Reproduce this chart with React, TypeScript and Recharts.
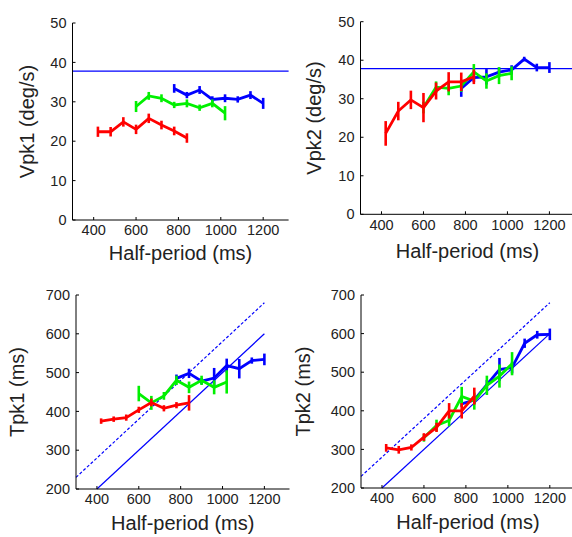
import React from "react";
import { ComposedChart, Line, XAxis, YAxis, ErrorBar, ReferenceLine } from "recharts";

// half-period of each condition (ms)
const halfPeriodRed = [420, 480, 540, 600, 660, 720, 780, 840];
const halfPeriodGreen = [600, 660, 720, 780, 840, 900, 960, 1020];
const halfPeriodBlue = [780, 840, 900, 960, 1020, 1080, 1140, 1200];
const halfPeriodTicks = [400, 600, 800, 1000, 1200];

// peak velocity 1 (deg/s)
const vpk1Red = [22.4, 22.4, 24.9, 23.0, 25.8, 24.1, 22.6, 20.8];
const vpk1RedErr = [1.3, 1.2, 1.2, 1.2, 1.2, 1.1, 1.1, 1.2];
const vpk1Green = [28.8, 31.5, 30.9, 29.2, 29.6, 28.5, 29.6, 27.1];
const vpk1GreenErr = [1.4, 1.0, 1.0, 0.8, 1.0, 0.8, 1.0, 1.8];
const vpk1Blue = [33.4, 31.7, 33.0, 30.6, 30.9, 30.6, 31.7, 29.6];
const vpk1BlueErr = [1.1, 0.8, 1.0, 0.8, 1.0, 0.8, 1.0, 1.4];

// peak velocity 2 (deg/s)
const vpk2Red = [21.0, 26.8, 29.7, 27.7, 32.0, 34.4, 34.4, 35.7];
const vpk2RedErr = [3.2, 2.4, 2.4, 3.8, 2.2, 2.5, 2.4, 1.9];
const vpk2Green = [27.7, 33.0, 32.7, 33.3, 37.0, 34.6, 36.0, 36.6];
const vpk2GreenErr = [1.5, 1.5, 1.8, 1.5, 2.0, 2.0, 2.2, 1.8];
const vpk2Blue = [32.7, 35.5, 35.7, 36.9, 37.5, 40.3, 38.1, 38.1];
const vpk2BlueErr = [2.2, 1.2, 2.0, 1.2, 1.2, 0.6, 1.0, 1.4];

// time of peak 1 (ms)
const tpk1Red = [375, 380, 384, 404, 423, 408, 416, 422];
const tpk1RedErr = [7, 7, 8, 8, 10, 8, 8, 20];
const tpk1Green = [446, 422, 440, 480, 462, 480, 462, 476];
const tpk1GreenErr = [20, 18, 10, 12, 15, 12, 18, 30];
const tpk1Blue = [485, 498, 478, 486, 518, 510, 531, 534];
const tpk1BlueErr = [10, 12, 8, 26, 18, 25, 8, 15];

// time of peak 2 (ms)
const tpk2Red = [304, 299, 305, 332, 357, 400, 400, 438];
const tpk2RedErr = [10, 10, 8, 10, 12, 20, 20, 22];
const tpk2Green = [330, 362, 375, 437, 425, 466, 490, 522];
const tpk2GreenErr = [10, 15, 15, 25, 22, 25, 30, 30];
const tpk2Blue = [418, 428, 468, 507, 512, 575, 597, 598];
const tpk2BlueErr = [8, 10, 12, 30, 15, 12, 10, 15];

const vpkTicks = [0, 10, 20, 30, 40, 50];
const tpkTicks = [200, 300, 400, 500, 600, 700];
const vpkTarget = 37.8;
// Tpk = half-period / 2, and the same shifted up by 80 ms
const tpkHalf = [{ x: 400, y: 200 }, { x: 1200, y: 600 }];
const tpkHalfShifted = [{ x: 300, y: 230 }, { x: 1200, y: 680 }];

const RED = "#ff0000";
const GREEN = "#00f000";
const BLUE = "#0000ff";
const FONT = "'Liberation Sans', Arial, Helvetica, sans-serif";

const pts = (xs: number[], ys: number[], errs: number[]) =>
  xs.map((x, i) => ({ x, y: ys[i], err: errs[i] }));

const XTick = (props: any) => {
  const { x, y, payload } = props;
  return (
    <g>
      <line x1={x} x2={x} y1={y} y2={y - 3} stroke="#000" />
      <text x={x} y={y + 5} dy="0.71em" textAnchor="middle" fontSize={14.5} fontFamily={FONT} fill="#222">
        {payload.value}
      </text>
    </g>
  );
};

const YTick = (props: any) => {
  const { x, y, payload } = props;
  return (
    <g>
      <line x1={x} x2={x + 3} y1={y} y2={y} stroke="#000" />
      <text x={x - 6} y={y} dy="0.355em" textAnchor="end" fontSize={14.5} fontFamily={FONT} fill="#222">
        {payload.value}
      </text>
    </g>
  );
};

type Panel = {
  left: number;
  top: number;
  width: number;
  height: number;
  yAxisWidth: number;
  marginTop: number;
  marginRight: number;
  xAxisHeight: number;
  xLabelOffset: number;
  yLabelX: number;
  yLabel: string;
  yDomain: [number, number];
  yTicks: number[];
  red: any[];
  green: any[];
  blue: any[];
  diagonal?: boolean;
  target?: boolean;
};

const panels: Panel[] = [
  {
    left: 0, top: 0, width: 292, height: 268, yAxisWidth: 72.5, marginTop: 23, marginRight: 3.4,
    xAxisHeight: 48, xLabelOffset: 8, yLabelX: 27, yLabel: "Vpk1 (deg/s)", yDomain: [0, 50], yTicks: vpkTicks,
    red: pts(halfPeriodRed, vpk1Red, vpk1RedErr),
    green: pts(halfPeriodGreen, vpk1Green, vpk1GreenErr),
    blue: pts(halfPeriodBlue, vpk1Blue, vpk1BlueErr),
    target: true,
  },
  {
    left: 286, top: 0, width: 290, height: 268, yAxisWidth: 74.5, marginTop: 21.7, marginRight: 1.4,
    xAxisHeight: 53.7, xLabelOffset: 10, yLabelX: 28, yLabel: "Vpk2 (deg/s)", yDomain: [0, 50], yTicks: vpkTicks,
    red: pts(halfPeriodRed, vpk2Red, vpk2RedErr),
    green: pts(halfPeriodGreen, vpk2Green, vpk2GreenErr),
    blue: pts(halfPeriodBlue, vpk2Blue, vpk2BlueErr),
    target: true,
  },
  {
    left: 0, top: 268, width: 292, height: 269, yAxisWidth: 76, marginTop: 27, marginRight: 2.5,
    xAxisHeight: 48, xLabelOffset: 7, yLabelX: 17, yLabel: "Tpk1 (ms)", yDomain: [200, 700], yTicks: tpkTicks,
    red: pts(halfPeriodRed, tpk1Red, tpk1RedErr),
    green: pts(halfPeriodGreen, tpk1Green, tpk1GreenErr),
    blue: pts(halfPeriodBlue, tpk1Blue, tpk1BlueErr),
    diagonal: true,
  },
  {
    left: 286, top: 268, width: 290, height: 269, yAxisWidth: 75, marginTop: 27, marginRight: 1,
    xAxisHeight: 49, xLabelOffset: 8, yLabelX: 17, yLabel: "Tpk2 (ms)", yDomain: [200, 700], yTicks: tpkTicks,
    red: pts(halfPeriodRed, tpk2Red, tpk2RedErr),
    green: pts(halfPeriodGreen, tpk2Green, tpk2GreenErr),
    blue: pts(halfPeriodBlue, tpk2Blue, tpk2BlueErr),
    diagonal: true,
  },
];

function PanelChart({ p }: { p: Panel }) {
  const series = [
    { key: "blue", data: p.blue, color: BLUE },
    { key: "green", data: p.green, color: GREEN },
    { key: "red", data: p.red, color: RED },
  ];
  return (
    <div style={{ position: "absolute", left: p.left, top: p.top }}>
      <ComposedChart
        width={p.width}
        height={p.height}
        margin={{ top: p.marginTop, right: p.marginRight, bottom: 0, left: 0 }}
      >
        <XAxis
          type="number"
          dataKey="x"
          domain={[300, 1320]}
          ticks={halfPeriodTicks}
          allowDataOverflow
          height={p.xAxisHeight}
          tickSize={0}
          tickMargin={0}
          tickLine={false}
          tick={<XTick />}
          axisLine={{ stroke: "#000" }}
          label={{
            value: "Half-period (ms)",
            position: "insideBottom",
            offset: p.xLabelOffset,
            fontSize: 20,
            fontFamily: FONT,
            fill: "#222",
          }}
        />
        <YAxis
          type="number"
          domain={p.yDomain}
          ticks={p.yTicks}
          allowDataOverflow
          width={p.yAxisWidth}
          tickSize={0}
          tickMargin={0}
          tickLine={false}
          tick={<YTick />}
          axisLine={{ stroke: "#000" }}
          label={{
            value: p.yLabel,
            angle: -90,
            position: "insideLeft",
            offset: p.yLabelX,
            fontSize: 20,
            fontFamily: FONT,
            fill: "#222",
            style: { textAnchor: "middle" },
          }}
        />
        {p.target && <ReferenceLine y={vpkTarget} stroke={BLUE} strokeWidth={1.3} />}
        {p.diagonal && (
          <ReferenceLine
            segment={tpkHalfShifted}
            stroke={BLUE}
            strokeWidth={1.2}
            strokeDasharray="3 2"
          />
        )}
        {p.diagonal && <ReferenceLine segment={tpkHalf} stroke={BLUE} strokeWidth={1.2} />}
        {series.map((s) => (
          <Line
            key={s.key}
            data={s.data}
            dataKey="y"
            stroke={s.color}
            strokeWidth={2.8}
            dot={false}
            activeDot={false}
            isAnimationActive={false}
          >
            <ErrorBar dataKey="err" width={0} stroke={s.color} strokeWidth={2.6} direction="y" />
          </Line>
        ))}
      </ComposedChart>
    </div>
  );
}

export default function App() {
  return (
    <div
      style={{
        position: "relative",
        width: 572,
        height: 537,
        overflow: "hidden",
        background: "#fff",
        fontFamily: FONT,
      }}
    >
      <style>{"body{margin:0}"}</style>
      {panels.map((p, i) => (
        <PanelChart key={i} p={p} />
      ))}
    </div>
  );
}
